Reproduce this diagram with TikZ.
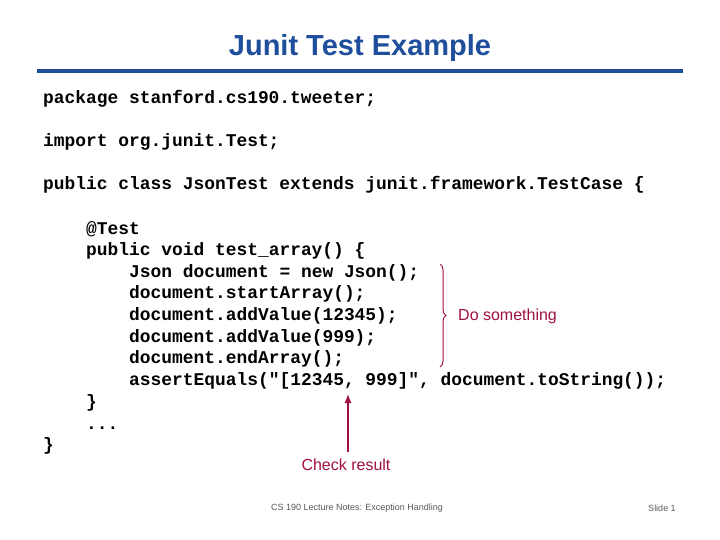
\documentclass[tikz,border=0pt]{standalone}
\usepackage{fontspec}
\setmainfont{Liberation Sans}
\setmonofont{Liberation Mono}
\usetikzlibrary{decorations.pathreplacing,arrows.meta}
\definecolor{tblue}{HTML}{1F4E9C}
\definecolor{dred}{HTML}{A01040}
\begin{document}
\begin{tikzpicture}[x=1pt,y=-1pt,
  code/.style={anchor=base west,inner sep=0,font=\ttfamily\bfseries\fontsize{17.9}{20}\selectfont},
  lab/.style={text=dred,font=\fontsize{16}{18}\selectfont,inner sep=0}]
\useasboundingbox[fill=white] (0,0) rectangle (720,540);
\node[text=tblue,font=\bfseries\fontsize{29}{32}\selectfont] (title) at (360,48) {Junit Test Example};
\draw[tblue,line width=3.5pt] (37,71) coordinate (l1) -- (683,71) coordinate (l2);
\node[code] (c1) at (43,104) {package stanford.cs190.tweeter;};
\node[code] (c2) at (43,147) {import org.junit.Test;};
\node[code] (c3) at (43,190) {public class JsonTest extends junit.framework.TestCase \{};
\node[code] (c4) at (86,234) {@Test};
\node[code] (c5) at (86,255) {public void test\_array() \{};
\node[code] (c6) at (129,277) {Json document = new Json();};
\node[code] (c7) at (129,298) {document.startArray();};
\node[code] (c8) at (129,320) {document.addValue(12345);};
\node[code] (c9) at (129,342) {document.addValue(999);};
\node[code] (c10) at (129,363) {document.endArray();};
\node[code] (c11) at (129,385) {assertEquals("[12345, 999]", document.toString());};
\node[code] (c12) at (86,407) {\}};
\node[code] (c13) at (86,429) {...};
\node[code] (c14) at (43,450) {\}};
\coordinate (bt) at (440,264);
\coordinate (bb) at (440,367);
\draw[dred,line width=1pt,decorate,decoration={brace,amplitude=6pt}] (bt) -- (bb);
\node[lab,anchor=west] (ds) at (458,316) {Do something};
\node[lab] (cr) at (346,465) {Check result};
\coordinate (at) at (348,394);
\draw[dred,line width=1.2pt,-{Latex[length=9pt,width=7pt]}] (cr.north -| at) ++(0,-7) -- (at);
\node[text=gray!70!black,font=\fontsize{9}{10}\selectfont] (f1) at (357,508) {CS 190 Lecture Notes: Exception Handling};
\node[text=gray!70!black,font=\fontsize{9}{10}\selectfont] (f2) at (662,508) {Slide 1};
\end{tikzpicture}
\end{document}
